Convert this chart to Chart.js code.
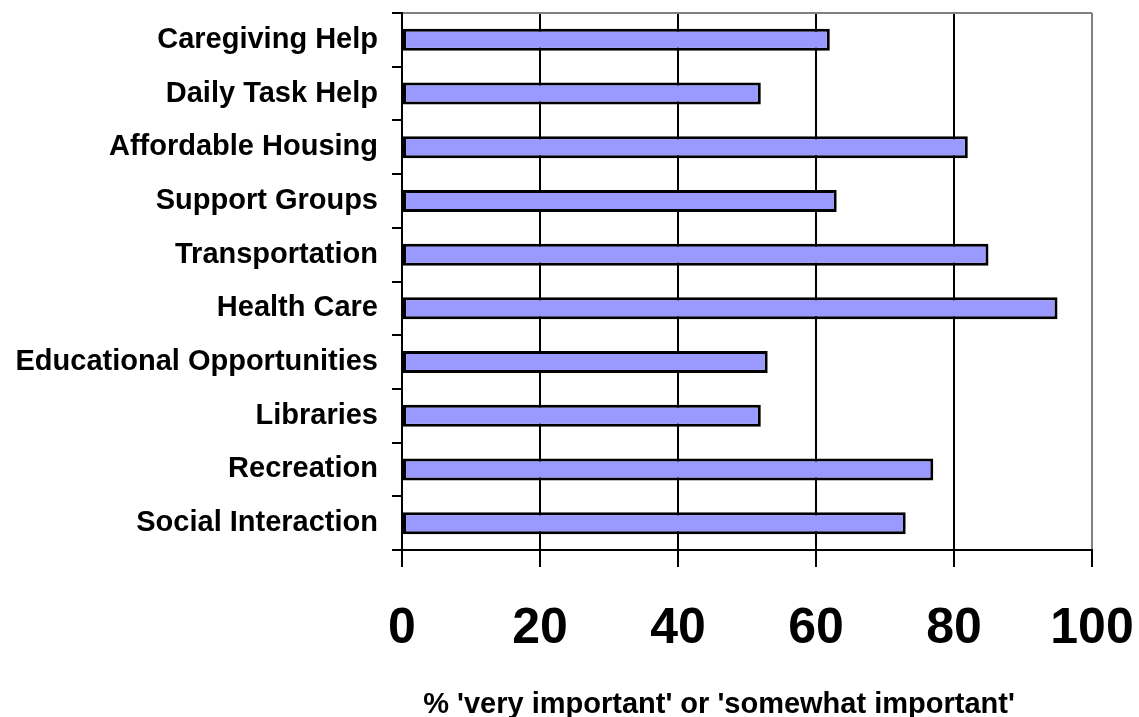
<!DOCTYPE html>
<html>
<head>
<meta charset="utf-8">
<script src="https://cdn.jsdelivr.net/npm/chart.js@4.4.1/dist/chart.umd.min.js"></script>
<style>
  body { margin: 0; background: #fff; }
  #wrap { width: 1139px; height: 717px; }
</style>
</head>
<body>
<div id="wrap"><canvas id="myChart" width="1139" height="717"></canvas></div>
<script>
// survey results, top row first
const services = [
  'Caregiving Help', 'Daily Task Help', 'Affordable Housing', 'Support Groups',
  'Transportation', 'Health Care', 'Educational Opportunities', 'Libraries',
  'Recreation', 'Social Interaction'
];
const pctImportant = [62, 52, 82, 63, 85, 95, 53, 52, 77, 73];
const xTicks = [0, 20, 40, 60, 80, 100];
const axisTitle = "% 'very important' or 'somewhat important'";

const FONT = "'Liberation Sans', Arial, sans-serif";

// x axis caption, drawn a little left of the axis middle
const captionPlugin = {
  id: 'caption',
  afterDraw(chart) {
    const ctx = chart.ctx;
    const area = chart.chartArea;
    ctx.save();
    ctx.font = 'bold 29px ' + FONT;
    ctx.fillStyle = '#000';
    ctx.textAlign = 'center';
    ctx.textBaseline = 'alphabetic';
    ctx.fillText(axisTitle, (area.left + area.right) / 2 - 28, 713);
    ctx.restore();
  }
};

// drop the label overhang so layout.padding alone sets the plot box
function noOverhang(scale) {
  scale.paddingTop = 0;
  scale.paddingBottom = 0;
  scale.paddingLeft = 0;
  scale.paddingRight = 0;
}

var ctx = document.getElementById('myChart').getContext('2d');
var chart = new Chart(ctx, {
  type: 'bar',
  data: {
    labels: services,
    datasets: [{
      data: pctImportant,
      backgroundColor: '#9999FF',
      borderColor: '#000000',
      borderWidth: 3,
      borderSkipped: false,
      barPercentage: 0.41,
      categoryPercentage: 1
    }]
  },
  options: {
    indexAxis: 'y',
    responsive: false,
    animation: false,
    layout: { padding: { top: 13, right: 47, left: 0, bottom: 0 } },
    plugins: {
      legend: { display: false },
      tooltip: { enabled: false }
    },
    scales: {
      x: {
        min: 0,
        max: 100,
        afterFit(scale) { scale.height = 167; noOverhang(scale); },
        afterBuildTicks(scale) { scale.ticks = xTicks.map(v => ({ value: v })); },
        border: { display: true, color: '#000', width: 2 },
        grid: {
          color: c => (c.tick && c.tick.value === 100) ? '#808080' : '#000',
          tickColor: '#000',
          lineWidth: 2,
          tickLength: 17
        },
        ticks: {
          color: '#000',
          padding: 32,
          font: { family: FONT, size: 50, weight: 'bold' }
        }
      },
      y: {
        afterFit(scale) { scale.width = 402; noOverhang(scale); },
        border: { display: true, color: '#000', width: 2 },
        grid: {
          offset: true,
          color: c => c.index === 0 ? '#808080' : 'rgba(0,0,0,0)',
          tickColor: '#000',
          lineWidth: 2,
          tickLength: 10
        },
        ticks: {
          color: '#000',
          padding: 14,
          autoSkip: false,
          font: { family: FONT, size: 29, weight: 'bold' }
        }
      }
    }
  },
  plugins: [captionPlugin]
});
</script>
</body>
</html>
